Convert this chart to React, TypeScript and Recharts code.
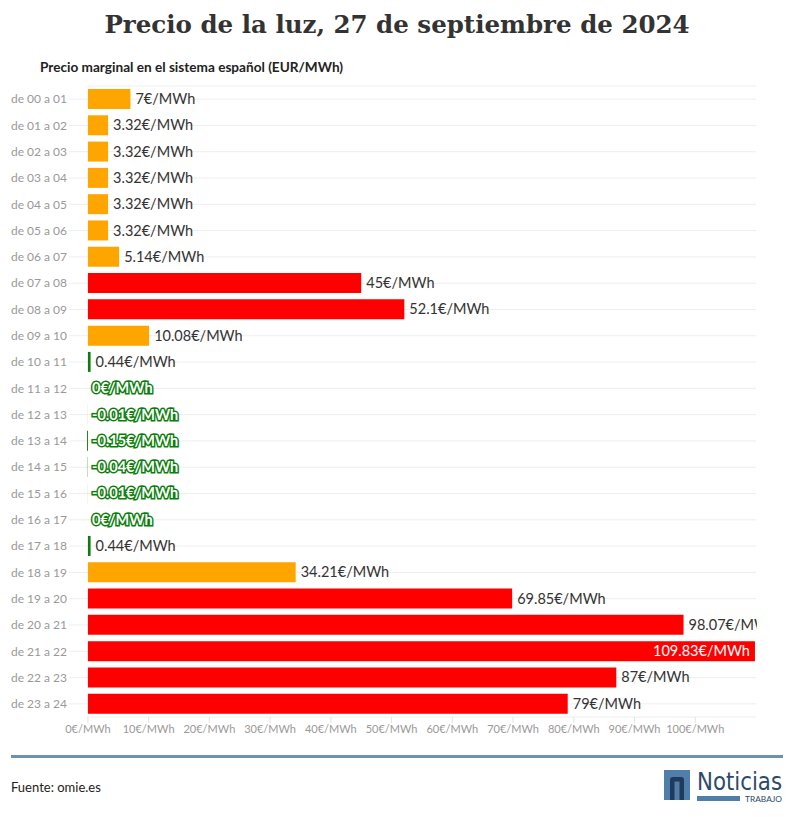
import { BarChart, Bar, XAxis, YAxis, CartesianGrid, Cell, LabelList } from 'recharts'

const hours = [
  'de 00 a 01', 'de 01 a 02', 'de 02 a 03', 'de 03 a 04', 'de 04 a 05', 'de 05 a 06',
  'de 06 a 07', 'de 07 a 08', 'de 08 a 09', 'de 09 a 10', 'de 10 a 11', 'de 11 a 12',
  'de 12 a 13', 'de 13 a 14', 'de 14 a 15', 'de 15 a 16', 'de 16 a 17', 'de 17 a 18',
  'de 18 a 19', 'de 19 a 20', 'de 20 a 21', 'de 21 a 22', 'de 22 a 23', 'de 23 a 24',
]

const prices = [
  7, 3.32, 3.32, 3.32, 3.32, 3.32, 5.14, 45, 52.1, 10.08, 0.44, 0,
  -0.01, -0.15, -0.04, -0.01, 0, 0.44, 34.21, 69.85, 98.07, 109.83, 87, 79,
]

const xTicks = [0, 10, 20, 30, 40, 50, 60, 70, 80, 90, 100]

const data = hours.map((h, i) => ({ hour: h, price: prices[i] }))
const maxPrice = Math.max(...prices)

const colorFor = (v: number) => {
  if (v < 1) return '#0b7d0b'
  if (v < 40) return '#ffa500'
  return '#ff0000'
}

const sans = 'Lato, "Open Sans", sans-serif'

function PriceLabel(props: any) {
  const { x, y, width, height, value } = props
  const right = Math.max(x, x + width)
  const cy = y + height / 2
  const txt = `${value}€/MWh`
  if (value === maxPrice) {
    return (
      <text x={right - 5} y={cy} dy="0.35em" textAnchor="end" fill="#fff" fontSize={14.5} fontFamily={sans}>
        {txt}
      </text>
    )
  }
  if (value <= 0) {
    // near-zero prices: white text with a green halo
    return (
      <text
        x={Math.max(right, 88) + 4}
        y={cy}
        dy="0.35em"
        fill="#fff"
        stroke="#0b7d0b"
        strokeWidth={3}
        paintOrder="stroke"
        fontSize={14.5}
        fontWeight={700}
        fontFamily={sans}
      >
        {txt}
      </text>
    )
  }
  return (
    <g>
      <defs>
        <clipPath id={`clip-${props.index}`}>
          <rect x={0} y={y - 10} width={757} height={height + 20} />
        </clipPath>
      </defs>
      <text
        x={right + 5}
        y={cy}
        dy="0.35em"
        fill="#333"
        fontSize={14.5}
        fontFamily={sans}
        clipPath={`url(#clip-${props.index})`}
      >
        {txt}
      </text>
    </g>
  )
}

export default function App() {
  return (
    <div style={{ position: 'absolute', left: 0, top: 0, width: 794, height: 817, background: '#fff', fontFamily: sans }}>
      <div
        style={{
          position: 'absolute', top: 10, left: 0, width: 794, textAlign: 'center',
          fontFamily: '"DejaVu Serif", serif', fontWeight: 700, fontSize: 24.5, color: '#333',
        }}
      >
        Precio de la luz, 27 de septiembre de 2024
      </div>
      <div style={{ position: 'absolute', top: 59, left: 40, fontSize: 13.6, fontWeight: 700, color: '#222' }}>
        Precio marginal en el sistema español (EUR/MWh)
      </div>

      <div style={{ position: 'absolute', top: 0, left: 0 }}>
        <BarChart
          width={794}
          height={760}
          data={data}
          layout="vertical"
          margin={{ top: 86, right: 38, bottom: 13, left: 0 }}
          barSize={20}
        >
          <CartesianGrid vertical={false} stroke="#eeeeee" />
          <XAxis
            type="number"
            domain={[-0.15, 110]}
            ticks={xTicks}
            tickFormatter={(v) => `${v}€/MWh`}
            axisLine={false}
            tickLine={{ stroke: '#e3e3e3' }}
            tickSize={6}
            height={30}
            tick={{ fill: '#999', fontSize: 11, fontFamily: sans }}
          />
          <YAxis
            type="category"
            dataKey="hour"
            width={87}
            axisLine={false}
            tickLine={{ stroke: '#eeeeee' }}
            tickSize={18}
            tickMargin={2}
            interval={0}
            tick={{ fill: '#999', fontSize: 12, fontFamily: sans }}
          />
          <Bar
            dataKey="price"
            isAnimationActive={false}
            minPointSize={(v: number) => (v === 0 ? 0.01 : 0)}
          >
            {data.map((d, i) => (
              <Cell key={i} fill={colorFor(d.price)} />
            ))}
            <LabelList dataKey="price" content={PriceLabel} />
          </Bar>
        </BarChart>
      </div>

      <div style={{ position: 'absolute', left: 11, top: 755, width: 772, height: 3, background: '#6b93ae' }} />
      <div style={{ position: 'absolute', left: 11, top: 779, fontSize: 13, color: '#222' }}>Fuente: omie.es</div>

      <svg style={{ position: 'absolute', left: 660, top: 765 }} width={134} height={42}>
        <rect x={4} y={5} width={26} height={30} fill="#4f7fa8" />
        <path d="M10 35 V15 Q10 12 13 12 H21 Q24 12 24 15 V35 H19.5 V16.5 H14.5 V35 Z" fill="#1f3a5c" />
        <text
          x={37}
          y={25}
          fontSize={24}
          fill="#2c4a6b"
          fontFamily='"DejaVu Sans", sans-serif'
          textLength={85}
          lengthAdjust="spacingAndGlyphs"
        >
          Noticias
        </text>
        <rect x={37} y={31} width={43} height={5} fill="#4f7fa8" />
        <text x={85} y={36.5} fontSize={7.5} fill="#2c4a6b" fontFamily={sans} textLength={37} lengthAdjust="spacingAndGlyphs">
          TRABAJO
        </text>
      </svg>
    </div>
  )
}
